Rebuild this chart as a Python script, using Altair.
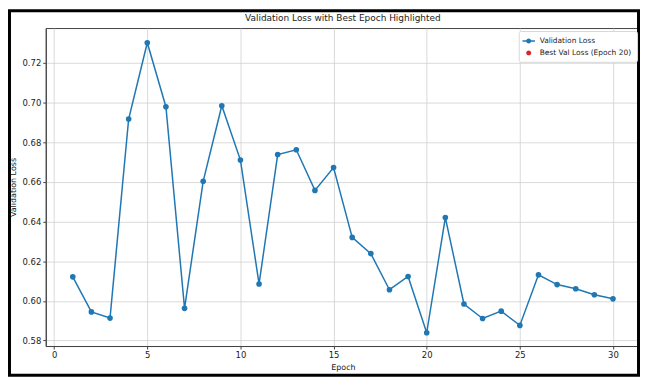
import altair as alt
import pandas as pd

epochs = list(range(1, 31))
val_loss = [0.6121, 0.5944, 0.5913, 0.6917, 0.7302, 0.6979, 0.5962, 0.6603, 0.6984, 0.6710,
            0.6085, 0.6738, 0.6762, 0.6557, 0.6672, 0.6320, 0.6238, 0.6056, 0.6123, 0.5839,
            0.6420, 0.5984, 0.5911, 0.5948, 0.5876, 0.6131, 0.6082, 0.6061, 0.6031, 0.6010]
best_epoch = 20
series_names = ["Validation Loss", "Best Val Loss (Epoch 20)"]
chart_title = ["Validation Loss with Best Epoch Highlighted"]
x_ticks = [0, 5, 10, 15, 20, 25, 30]
y_ticks = [0.58, 0.60, 0.62, 0.64, 0.66, 0.68, 0.70, 0.72]

BLUE = "#1f77b4"
RED = "#d62728"
FONT = "DejaVu Sans"

df = pd.DataFrame({"epoch": epochs, "loss": val_loss, "series": series_names[0]})
best = pd.DataFrame({"epoch": [best_epoch], "loss": [val_loss[best_epoch - 1]],
                     "series": [series_names[1]]})

W, H = 598, 320
PL, PT, PR, PB = 38, 19, 0, 31

xs = alt.Scale(domain=[-0.45, 31.45], nice=False, zero=False)
ys = alt.Scale(domain=[0.5772, 0.7376], nice=False, zero=False)

x_enc = alt.X("epoch:Q", scale=xs, title="Epoch",
              axis=alt.Axis(values=x_ticks, format="d", titlePadding=4))
y_enc = alt.Y("loss:Q", scale=ys, title="Validation Loss",
              axis=alt.Axis(values=y_ticks, format=".2f", titlePadding=5))

line_legend_path = ("M-1.25,-0.14L1.25,-0.14L1.25,0.14L-1.25,0.14Z"
                    "M0.5,0A0.5,0.5,0,1,1,-0.5,0A0.5,0.5,0,1,1,0.5,0Z")
dot_legend_path = "M0.5,0A0.5,0.5,0,1,1,-0.5,0A0.5,0.5,0,1,1,0.5,0Z"

best_layer = alt.Chart(best).mark_point(filled=True, size=32, opacity=1).encode(
    x=x_enc, y=y_enc,
    color=alt.Color("series:N", scale=alt.Scale(domain=series_names, range=[BLUE, RED]),
                    legend=alt.Legend(title=None)),
    shape=alt.Shape("series:N", scale=alt.Scale(domain=series_names,
                                                range=[line_legend_path, dot_legend_path]),
                    legend=alt.Legend(title=None)),
)

line = alt.Chart(df).mark_line(color=BLUE, strokeWidth=1.5).encode(x=x_enc, y=y_enc)
pts = alt.Chart(df).mark_point(filled=True, color=BLUE, size=32, opacity=1).encode(x=x_enc, y=y_enc)

frame = alt.Chart(pd.DataFrame({"a": [0]})).mark_rect(
    fill="transparent", stroke="black", strokeWidth=3
).encode(
    x=alt.value(-PL + 1.5), x2=alt.value(W + PR - 1.5),
    y=alt.value(-PT + 1.5), y2=alt.value(H + PB - 1.5),
)

title = alt.Chart(pd.DataFrame({"t": chart_title})).mark_text(
    font=FONT, fontSize=9, color="#222", align="center", baseline="middle"
).encode(text="t:N", x=alt.value(W / 2), y=alt.value(-10))

chart = alt.layer(best_layer, line, pts, frame, title).properties(
    width=W, height=H,
    autosize=alt.AutoSizeParams(type="none"),
    padding={"left": PL, "top": PT, "right": PR, "bottom": PB},
).configure_view(
    stroke="#444", strokeWidth=1
).configure_axis(
    labelFont=FONT, titleFont=FONT, labelFontSize=8.5, titleFontSize=8,
    titleFontWeight="normal", labelColor="#222", titleColor="#222",
    gridColor="#d0d0d0", gridWidth=0.8, domainColor="#444", tickColor="#444",
    tickSize=3, labelPadding=2,
).configure_legend(
    orient="top-right", offset=3, labelFont=FONT, labelFontSize=7.5, labelColor="#222",
    fillColor="white", strokeColor="#d8d8d8", padding=5, cornerRadius=2,
    symbolSize=100, rowPadding=3, symbolStrokeWidth=0, labelOffset=6,
)

chart.save("out.html", embed_options={"renderer": "svg", "actions": False})
